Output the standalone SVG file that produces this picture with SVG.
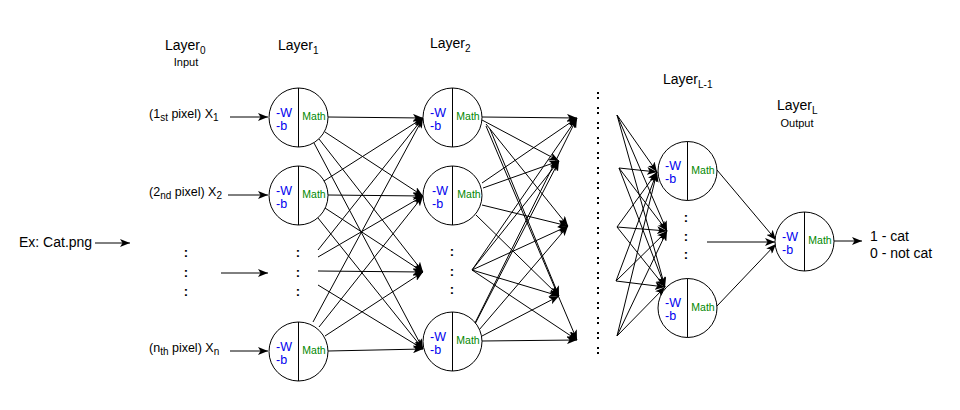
<svg xmlns="http://www.w3.org/2000/svg" width="960" height="410" viewBox="0 0 960 410">
<defs>
<marker id="arr" markerUnits="userSpaceOnUse" viewBox="0 0 10 8" refX="10" refY="4" markerWidth="10" markerHeight="8" orient="auto">
<path d="M0,0 L10,4 L0,8 L2.5,4 Z" fill="#000"/>
</marker>
</defs>
<style>
text{font-family:"Liberation Sans",Arial,sans-serif;fill:#000}
.lay{font-size:14px}
.sub{font-size:10px}
.small{font-size:11px}
.lbl{font-size:12.5px}
.big{font-size:14px}
.w{font-size:12.5px;fill:#0000ee}
.m{font-size:10.5px;fill:#008800}
.dots{font-size:13px;font-weight:bold}
circle{fill:#fff;stroke:#000;stroke-width:1}
.div{stroke:#000;stroke-width:1}
#connectors line{stroke:#000;stroke-width:1;marker-end:url(#arr)}
</style>
<rect width="960" height="410" fill="#fff"/>

<g id="labels">
<text class="lay" x="165" y="50">Layer<tspan class="sub" dy="4">0</tspan></text>
<text class="small" x="186" y="66" text-anchor="middle">Input</text>
<text class="lay" x="278" y="50">Layer<tspan class="sub" dy="4">1</tspan></text>
<text class="lay" x="430" y="48">Layer<tspan class="sub" dy="4">2</tspan></text>
<text class="lay" x="663" y="84">Layer<tspan class="sub" dy="4">L-1</tspan></text>
<text class="lay" x="777" y="110">Layer<tspan class="sub" dy="4">L</tspan></text>
<text class="small" x="797" y="127" text-anchor="middle">Output</text>
<text class="lbl" x="149" y="118">(1<tspan class="sub" dy="3">st</tspan><tspan dy="-3"> pixel) X</tspan><tspan class="sub" dy="3">1</tspan></text>
<text class="lbl" x="149" y="196">(2<tspan class="sub" dy="3">nd</tspan><tspan dy="-3"> pixel) X</tspan><tspan class="sub" dy="3">2</tspan></text>
<text class="lbl" x="149" y="352">(n<tspan class="sub" dy="3">th</tspan><tspan dy="-3"> pixel) X</tspan><tspan class="sub" dy="3">n</tspan></text>
<text class="big" x="19" y="247">Ex: Cat.png</text>
<text class="big" x="870" y="241">1 - cat</text>
<text class="big" x="870" y="258">0 - not cat</text>
</g>

<g id="dots-input">
<text class="dots" x="186" y="257" text-anchor="middle">:</text>
<text class="dots" x="186" y="277" text-anchor="middle">:</text>
<text class="dots" x="186" y="296" text-anchor="middle">:</text>
</g>
<g id="dots-l1">
<text class="dots" x="298" y="257" text-anchor="middle">:</text>
<text class="dots" x="298" y="277" text-anchor="middle">:</text>
<text class="dots" x="298" y="296" text-anchor="middle">:</text>
</g>
<g id="dots-l2">
<text class="dots" x="452" y="256" text-anchor="middle">:</text>
<text class="dots" x="452" y="276" text-anchor="middle">:</text>
<text class="dots" x="452" y="294" text-anchor="middle">:</text>
</g>
<g id="dots-lm1">
<text class="dots" x="686" y="222" text-anchor="middle">:</text>
<text class="dots" x="686" y="241" text-anchor="middle">:</text>
<text class="dots" x="686" y="259" text-anchor="middle">:</text>
</g>
<g id="dots-column">
<line x1="598" y1="92" x2="598" y2="362" stroke="#000" stroke-width="2" stroke-dasharray="2 3 2 8"/>
</g>

<g id="connectors">
<line x1="95" y1="243" x2="130" y2="243"/>
<line x1="230" y1="117" x2="268" y2="117"/>
<line x1="228" y1="195" x2="268" y2="195"/>
<line x1="221" y1="273" x2="268" y2="273"/>
<line x1="230" y1="351" x2="268" y2="351"/>
<line x1="328" y1="117" x2="423" y2="118"/>
<line x1="325" y1="132" x2="423" y2="196"/>
<line x1="319" y1="139" x2="423" y2="272"/>
<line x1="314" y1="143" x2="423" y2="349"/>
<line x1="324" y1="181" x2="423" y2="118"/>
<line x1="328" y1="195" x2="423" y2="196"/>
<line x1="325" y1="208" x2="423" y2="272"/>
<line x1="318" y1="218" x2="423" y2="349"/>
<line x1="318" y1="250" x2="423" y2="118"/>
<line x1="318" y1="257" x2="423" y2="196"/>
<line x1="318" y1="271" x2="423" y2="272"/>
<line x1="318" y1="285" x2="423" y2="349"/>
<line x1="313" y1="322" x2="423" y2="118"/>
<line x1="319" y1="327" x2="423" y2="196"/>
<line x1="325" y1="336" x2="423" y2="272"/>
<line x1="328" y1="351" x2="423" y2="349"/>
<line x1="482" y1="117" x2="577" y2="118"/>
<line x1="482" y1="120" x2="559" y2="161"/>
<line x1="486" y1="124" x2="568" y2="226"/>
<line x1="490" y1="129" x2="559" y2="296"/>
<line x1="486" y1="126" x2="577" y2="340"/>
<line x1="482" y1="183" x2="577" y2="118"/>
<line x1="483" y1="188" x2="559" y2="161"/>
<line x1="482" y1="205" x2="568" y2="226"/>
<line x1="476" y1="215" x2="559" y2="296"/>
<line x1="472" y1="270" x2="577" y2="118"/>
<line x1="472" y1="270" x2="559" y2="161"/>
<line x1="472" y1="270" x2="568" y2="226"/>
<line x1="472" y1="270" x2="559" y2="296"/>
<line x1="472" y1="270" x2="577" y2="340"/>
<line x1="473" y1="327" x2="577" y2="118"/>
<line x1="475" y1="324" x2="559" y2="161"/>
<line x1="479" y1="330" x2="568" y2="226"/>
<line x1="482" y1="336" x2="559" y2="296"/>
<line x1="482" y1="341" x2="577" y2="340"/>
<line x1="617" y1="115" x2="657" y2="172"/>
<line x1="617" y1="115" x2="667" y2="231"/>
<line x1="617" y1="115" x2="665" y2="287"/>
<line x1="619" y1="168" x2="657" y2="172"/>
<line x1="619" y1="168" x2="667" y2="231"/>
<line x1="619" y1="168" x2="665" y2="287"/>
<line x1="617" y1="227" x2="657" y2="172"/>
<line x1="617" y1="227" x2="667" y2="231"/>
<line x1="617" y1="227" x2="665" y2="287"/>
<line x1="616" y1="281" x2="657" y2="172"/>
<line x1="616" y1="281" x2="667" y2="231"/>
<line x1="616" y1="281" x2="665" y2="287"/>
<line x1="617" y1="336" x2="657" y2="172"/>
<line x1="617" y1="336" x2="667" y2="231"/>
<line x1="617" y1="336" x2="665" y2="287"/>
<line x1="717" y1="170" x2="776" y2="240"/>
<line x1="707" y1="242" x2="775" y2="242"/>
<line x1="717" y1="306" x2="776" y2="244"/>
<line x1="833" y1="241" x2="862" y2="241"/>
</g>

<g id="node-l1-1">
<circle cx="298.5" cy="117.5" r="29.5"/>
<line class="div" x1="298.5" y1="88" x2="298.5" y2="147"/>
<text class="w" x="276" y="117">-W</text><text class="w" x="276" y="130">-b</text>
<text class="m" x="314" y="120" text-anchor="middle">Math</text>
</g>
<g id="node-l1-2">
<circle cx="298.5" cy="195.5" r="29.5"/>
<line class="div" x1="298.5" y1="166" x2="298.5" y2="225"/>
<text class="w" x="276" y="195">-W</text><text class="w" x="276" y="208">-b</text>
<text class="m" x="314" y="198" text-anchor="middle">Math</text>
</g>
<g id="node-l1-n">
<circle cx="298.5" cy="351.5" r="29.5"/>
<line class="div" x1="298.5" y1="322" x2="298.5" y2="381"/>
<text class="w" x="276" y="351">-W</text><text class="w" x="276" y="364">-b</text>
<text class="m" x="314" y="354" text-anchor="middle">Math</text>
</g>
<g id="node-l2-1">
<circle cx="452.5" cy="117.5" r="29.5"/>
<line class="div" x1="452.5" y1="88" x2="452.5" y2="147"/>
<text class="w" x="430" y="117">-W</text><text class="w" x="430" y="130">-b</text>
<text class="m" x="468" y="120" text-anchor="middle">Math</text>
</g>
<g id="node-l2-2">
<circle cx="452.5" cy="195.5" r="29.5"/>
<line class="div" x1="452.5" y1="166" x2="452.5" y2="225"/>
<text class="w" x="432" y="195">-W</text><text class="w" x="432" y="208">-b</text>
<text class="m" x="469" y="198" text-anchor="middle">Math</text>
</g>
<g id="node-l2-n">
<circle cx="452.5" cy="341.5" r="29.5"/>
<line class="div" x1="452.5" y1="312" x2="452.5" y2="371"/>
<text class="w" x="430" y="341">-W</text><text class="w" x="430" y="354">-b</text>
<text class="m" x="468" y="344" text-anchor="middle">Math</text>
</g>
<g id="node-lm1-1">
<circle cx="687.5" cy="171" r="29.5"/>
<line class="div" x1="687.5" y1="141.5" x2="687.5" y2="200.5"/>
<text class="w" x="665" y="170">-W</text><text class="w" x="665" y="183">-b</text>
<text class="m" x="703" y="174" text-anchor="middle">Math</text>
</g>
<g id="node-lm1-n">
<circle cx="687.5" cy="308" r="29.5"/>
<line class="div" x1="687.5" y1="278.5" x2="687.5" y2="337.5"/>
<text class="w" x="665" y="307">-W</text><text class="w" x="665" y="320">-b</text>
<text class="m" x="703" y="311" text-anchor="middle">Math</text>
</g>
<g id="node-out">
<circle cx="804.5" cy="241.5" r="29.5"/>
<line class="div" x1="804.5" y1="212" x2="804.5" y2="271"/>
<text class="w" x="782" y="241">-W</text><text class="w" x="782" y="254">-b</text>
<text class="m" x="820" y="244" text-anchor="middle">Math</text>
</g>
</svg>
